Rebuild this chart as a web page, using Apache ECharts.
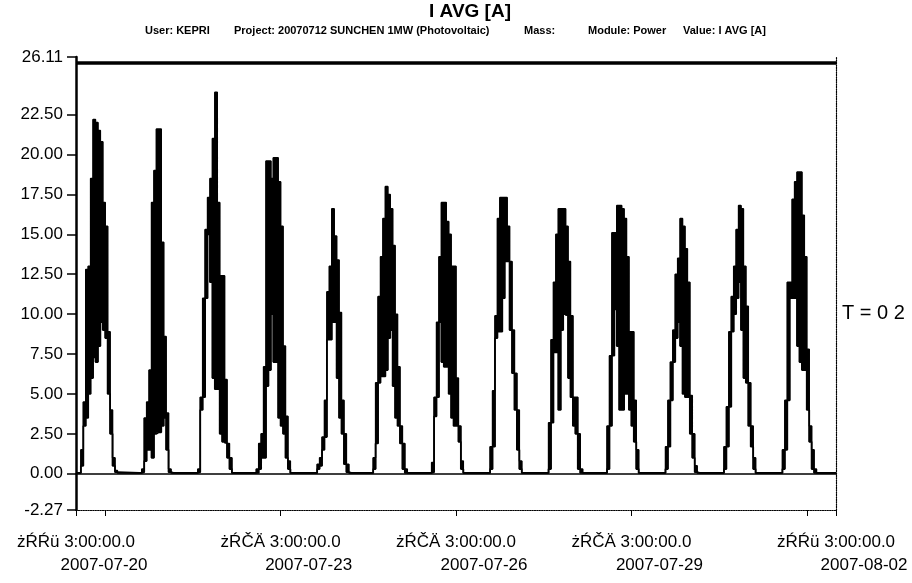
<!DOCTYPE html>
<html><head><meta charset="utf-8">
<script src="https://cdn.jsdelivr.net/npm/echarts@6/dist/echarts.min.js"></script>
<style>html,body{margin:0;padding:0;background:#fff}#c{width:912px;height:583px}</style>
</head><body><div id="c"></div>
<script>
// ---- data ----
const days = ['2007-07-20','2007-07-21','2007-07-22','2007-07-23','2007-07-24','2007-07-25','2007-07-26',
              '2007-07-27','2007-07-28','2007-07-29','2007-07-30','2007-07-31','2007-08-01'];
const hours = [5,6,7,8,9,10,11,12,13,14,15,16,17,18,19];
const nightLevel = 0.05;
const startTime = '2007-07-20 03:00';
const endTime = '2007-08-02 03:00';

// upper envelope (peak of the dense trace) per hour, and lower envelope
const up0  = [1.5,4.5,12.8,13.0,18.5,22.2,22.0,21.5,20.8,17.0,15.5,8.9,4.0,1.0,0.2];
const lo0  = [0.5,3.0,3.5,5.0,6.0,7.3,7.0,8.0,9.5,9.0,8.5,5.0,2.5,0.5,0.1];
const up1  = [0.05,0.3,3.5,4.5,6.5,17.0,19.0,21.6,21.6,14.5,8.6,3.8,0.3,0.05,0.05];
const lo1  = [0.05,0.1,0.8,1.5,1.5,1.0,2.5,2.6,2.6,3.0,3.5,1.5,0.1,0.05,0.05];
const up2  = [0.3,4.8,11.0,15.3,17.3,18.5,21.0,23.9,17.0,12.4,12.4,5.9,1.9,1.0,0.05];
const lo2  = [0.1,4.0,4.8,11.0,15.0,12.0,6.0,5.3,5.3,2.5,2.0,1.9,1.0,0.3,0.05];
const up3  = [0.3,1.9,2.5,6.7,19.6,19.6,18.5,19.8,19.8,18.3,15.5,8.0,3.6,0.8,0.05];
const lo3  = [0.05,0.3,1.0,1.0,5.5,6.5,10.0,7.0,7.0,3.5,3.0,2.5,1.0,0.3,0.05];
const up4  = [0.05,0.6,1.0,2.3,4.6,11.4,13.0,16.6,14.9,13.4,10.1,4.6,2.5,0.6,0.05];
const lo4  = [0.05,0.3,0.5,1.5,2.3,8.4,8.4,9.5,9.5,6.0,3.5,2.5,0.6,0.1,0.05];
const up5  = [1.0,5.7,11.1,13.6,16.0,18.0,17.5,16.6,14.3,10.0,6.7,3.0,1.9,0.3,0.05];
const lo5  = [0.3,1.9,5.7,6.1,6.1,6.5,8.5,9.0,5.5,3.5,3.0,1.9,0.3,0.05,0.05];
const up6  = [0.7,4.8,9.5,13.6,17.0,17.0,15.8,15.0,13.0,13.0,6.0,3.0,0.8,0.05,0.05];
const lo6  = [0.1,3.6,4.8,9.5,7.0,6.7,6.7,5.0,3.5,3.0,3.0,2.0,0.3,0.05,0.05];
const up7  = [1.7,5.2,9.9,16.0,17.3,17.3,17.3,15.5,13.3,9.0,6.3,4.0,0.8,0.05,0.05];
const lo7  = [0.3,1.7,8.5,8.9,8.9,11.0,13.3,13.3,9.0,6.3,4.0,1.5,0.3,0.05,0.05];
const up8  = [3.2,8.4,12.0,15.0,16.6,16.6,16.6,15.5,13.3,9.9,4.8,4.8,2.5,0.3,0.05];
const lo8  = [0.3,3.2,7.6,7.6,4.0,9.0,10.0,9.9,6.0,4.8,3.0,2.5,0.3,0.05,0.05];
const up9  = [3.0,7.4,15.1,15.1,16.8,16.8,16.6,16.0,13.6,8.9,8.9,4.6,1.5,0.05,0.05];
const lo9  = [0.3,3.0,7.4,10.3,8.0,4.0,4.0,5.0,5.0,4.0,3.0,2.0,0.3,0.05,0.05];
const up10 = [1.7,4.6,7.0,9.0,12.5,13.5,16.0,15.5,14.1,12.0,4.9,2.5,0.5,0.05,0.05];
const lo10 = [0.3,1.7,4.6,7.0,8.5,9.5,8.0,5.0,4.8,4.8,2.5,1.0,0.1,0.05,0.05];
const up11 = [1.7,4.2,8.9,11.1,13.0,15.3,16.8,16.6,13.0,10.5,5.7,3.0,1.0,0.05,0.05];
const lo11 = [0.3,1.7,4.2,8.9,10.0,11.0,12.0,9.0,6.0,5.7,3.0,1.7,0.3,0.05,0.05];
const up12 = [1.5,4.6,12.0,12.0,17.2,18.3,18.9,18.9,16.2,13.6,7.8,3.0,1.5,0.3,0.05];
const lo12 = [0.3,1.5,4.6,11.0,11.0,11.0,8.0,7.0,6.5,6.5,4.0,2.0,0.3,0.05,0.05];

const limitLevel = 25.75;   // thick horizontal line just under the top border

const yTickValues = [-2.27,0,2.5,5,7.5,10,12.5,15,17.5,20,22.5,26.11];
const xLabelTimes = ['2007-07-20 03:00','2007-07-23 15:00','2007-07-26 15:00','2007-07-29 15:00','2007-08-02 03:00'];
const xLabelLine1 = ['żŔŔü 3:00:00.0','żŔČÄ 3:00:00.0','żŔČÄ 3:00:00.0','żŔČÄ 3:00:00.0','żŔŔü 3:00:00.0'];
const xLabelLine2 = ['2007-07-20','2007-07-23','2007-07-26','2007-07-29','2007-08-02'];
const xExtraTickTimes = ['2007-07-20 15:00','2007-08-01 15:00'];

const titleText = 'I AVG [A]';
const subtitleParts = ['User: KEPRI','Project: 20070712 SUNCHEN 1MW (Photovoltaic)','Mass:','Module: Power','Value: I AVG [A]'];
const sideText = 'T = 0 2';

// ---- build (x = hours elapsed since startTime) ----
const upperDays = [up0,up1,up2,up3,up4,up5,up6,up7,up8,up9,up10,up11,up12];
const lowerDays = [lo0,lo1,lo2,lo3,lo4,lo5,lo6,lo7,lo8,lo9,lo10,lo11,lo12];
function ms(s){
  const p = s.split(' '); const d = p[0].split('-').map(Number);
  const hm = (p[1]||'00:00').split(':').map(Number);
  return Date.UTC(d[0], d[1]-1, d[2], hm[0], hm[1]);
}
const T0 = ms(startTime);
function t(s){ return (ms(s) - T0) / 3600e3; }
const upperData = [[0, nightLevel]];
const lowerData = [[0, nightLevel]];
const bandData = [];   // [hourStart, hourEnd, low, high]
days.forEach((d, k) => {
  const base = t(d + ' 00:00');
  hours.forEach((h, i) => {
    upperData.push([base + h, upperDays[k][i]]);
    lowerData.push([base + h, lowerDays[k][i]]);
    bandData.push([base + h, base + h + 1, lowerDays[k][i], upperDays[k][i]]);
  });
  upperData.push([base + 20, nightLevel]);
  lowerData.push([base + 20, nightLevel]);
});
upperData.push([t(endTime), nightLevel]);
lowerData.push([t(endTime), nightLevel]);

const labelMap = {};
xLabelTimes.forEach((s,i) => { labelMap[t(s)] = '{a|' + xLabelLine1[i] + '}\n{b|' + xLabelLine2[i] + '}'; });
const xTickValues = xLabelTimes.concat(xExtraTickTimes).map(t);

const FONT = 'Liberation Sans';
const chart = echarts.init(document.getElementById('c'), null, {renderer:'canvas'});
chart.setOption({
  animation: false,
  backgroundColor: '#fff',
  grid: {left: 76, right: 76, top: 57, bottom: 73, containLabel: false, outerBoundsMode: 'none'},
  xAxis: [{
    type: 'value', min: 0, max: t(endTime), position: 'bottom',
    axisLine: {onZero: false, lineStyle: {color: '#000', type: 'dotted', width: 1.2}},
    axisTick: {show: true, customValues: xTickValues, length: 6, lineStyle: {color: '#000', width: 1}},
    axisLabel: {
      customValues: xLabelTimes.map(t), margin: 21, color: '#000',
      formatter: v => labelMap[v] || '',
      rich: {
        a: {fontFamily: FONT, fontSize: 17, color: '#000', align: 'center', lineHeight: 23},
        b: {fontFamily: FONT, fontSize: 17, color: '#000', align: 'center', lineHeight: 23, padding: [0,0,0,56]}
      }
    },
    splitLine: {show: false}
  }, {
    type: 'value', min: 0, max: t(endTime), position: 'top',
    axisLine: {lineStyle: {color: '#000', width: 1.5}},
    axisTick: {show: false}, axisLabel: {show: false}, splitLine: {show: false}
  }],
  yAxis: [{
    type: 'value', min: -2.27, max: 26.11,
    axisLine: {show: true, onZero: false, lineStyle: {color: '#000', width: 2.5}},
    axisTick: {show: true, customValues: yTickValues, length: 9, lineStyle: {color: '#000', width: 1.5}},
    axisLabel: {customValues: yTickValues, formatter: v => Number(v).toFixed(2), margin: 13,
                fontFamily: FONT, fontSize: 17, color: '#000'},
    splitLine: {show: false}
  }, {
    type: 'value', min: -2.27, max: 26.11, position: 'right',
    axisLine: {show: true, onZero: false, lineStyle: {color: '#000', type: 'dotted', width: 1.2}},
    axisTick: {show: false}, axisLabel: {show: false}, splitLine: {show: false}
  }],
  series: [{
    name: 'band', type: 'custom', data: bandData, z: 2, xAxisIndex: 0, yAxisIndex: 0,
    encode: {x: [0, 1], y: [2, 3]},
    renderItem: function (params, api) {
      const a = api.coord([api.value(0), api.value(3)]);
      const b = api.coord([api.value(1), api.value(2)]);
      const cx = (a[0] + b[0]) / 2;
      return {type: 'line', shape: {x1: cx, y1: a[1], x2: cx, y2: b[1]},
              style: {stroke: '#000', lineWidth: (b[0] - a[0]) + 1.0, lineCap: 'butt'}};
    }
  }, {
    name: 'upper', type: 'line', step: 'end', data: upperData, symbol: 'none', z: 3,
    lineStyle: {color: '#000', width: 1.5},
    markLine: {silent: true, symbol: 'none', label: {show: false},
               lineStyle: {color: '#000', width: 3.5, type: 'solid'}, data: [{yAxis: limitLevel}]}
  }, {
    name: 'lower', type: 'line', step: 'end', data: lowerData, symbol: 'none', z: 3,
    lineStyle: {color: '#000', width: 1.8}
  }],
  graphic: [
    {type: 'text', x: 470, y: 2, style: {text: titleText, fontFamily: FONT, fontSize: 19, fontWeight: 'bold', fill: '#000', align: 'center'}},
    {type: 'text', x: 145, y: 25, style: {text: subtitleParts[0], fontFamily: FONT, fontSize: 11, fontWeight: 'bold', fill: '#000'}},
    {type: 'text', x: 234, y: 25, style: {text: subtitleParts[1], fontFamily: FONT, fontSize: 11, fontWeight: 'bold', fill: '#000'}},
    {type: 'text', x: 524, y: 25, style: {text: subtitleParts[2], fontFamily: FONT, fontSize: 11, fontWeight: 'bold', fill: '#000'}},
    {type: 'text', x: 588, y: 25, style: {text: subtitleParts[3], fontFamily: FONT, fontSize: 11, fontWeight: 'bold', fill: '#000'}},
    {type: 'text', x: 683, y: 25, style: {text: subtitleParts[4], fontFamily: FONT, fontSize: 11, fontWeight: 'bold', fill: '#000'}},
    {type: 'text', x: 842, y: 303, style: {text: sideText, fontFamily: FONT, fontSize: 20, fill: '#000'}}
  ]
});
</script></body></html>
